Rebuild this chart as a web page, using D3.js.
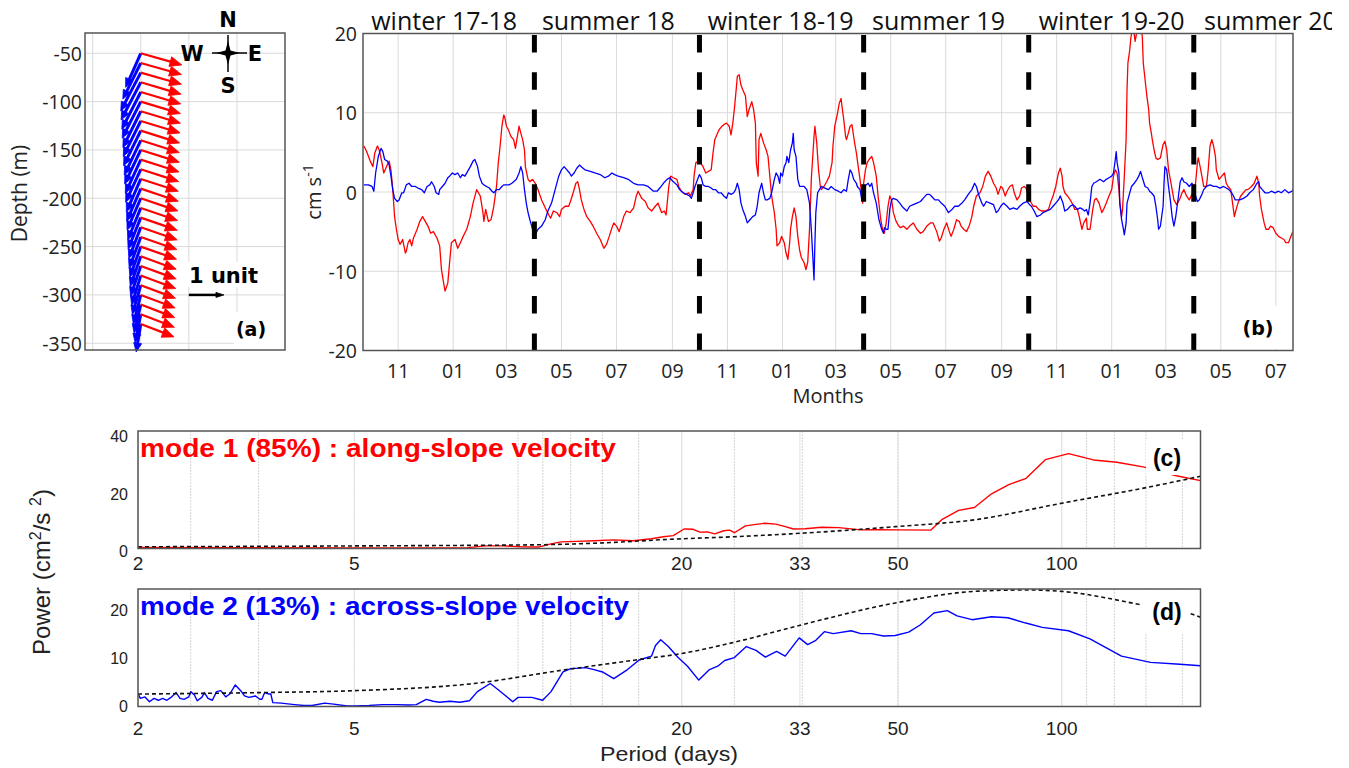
<!DOCTYPE html>
<html><head><meta charset="utf-8">
<script src="https://cdn.jsdelivr.net/npm/d3@7"></script>
<style>body{margin:0;background:#fff}svg{display:block}</style>
</head><body>
<svg id="fig" width="1349" height="768"></svg>
<script>
// ================= DATA =================
// Panel (a): EOF vertical structure (vector units)
const depths = [-50,-60,-70,-80,-90,-100,-110,-120,-130,-140,-150,-160,-170,-180,-190,-200,-210,-220,-230,-240,-250,-260,-270,-280,-290,-300,-310,-320,-330];
const mode1U = [1.17,1.16,1.16,1.15,1.14,1.13,1.13,1.12,1.11,1.10,1.10,1.09,1.08,1.07,1.07,1.06,1.05,1.04,1.04,1.03,1.02,1.01,1.01,1.00,0.99,0.98,0.97,0.96,0.95];
const mode1V = [-0.33,-0.33,-0.33,-0.34,-0.34,-0.34,-0.34,-0.34,-0.35,-0.35,-0.35,-0.35,-0.35,-0.35,-0.36,-0.36,-0.36,-0.36,-0.36,-0.36,-0.36,-0.37,-0.37,-0.37,-0.37,-0.37,-0.37,-0.37,-0.37];
const mode2U = [-0.43,-0.51,-0.57,-0.56,-0.54,-0.53,-0.51,-0.50,-0.49,-0.47,-0.46,-0.44,-0.43,-0.41,-0.40,-0.39,-0.37,-0.36,-0.34,-0.33,-0.31,-0.30,-0.29,-0.26,-0.24,-0.21,-0.19,-0.16,-0.13];
const mode2V = [-0.97,-1.03,-1.09,-1.07,-1.06,-1.04,-1.03,-1.01,-1.00,-0.99,-0.97,-0.96,-0.94,-0.94,-0.93,-0.91,-0.91,-0.90,-0.89,-0.89,-0.87,-0.86,-0.86,-0.84,-0.83,-0.83,-0.81,-0.81,-0.80];
const depthTicks = [-350,-300,-250,-200,-150,-100,-50];
const aGridX = [-1,0,1,2];
const refArrowUnits = 1;

// Panel (b): principal component time series, [days since 2017-09-23, cm/s]
const alongSlope = [[1,5.8],[4,5.1],[8,3.9],[11,3.2],[13,4.9],[16,5.8],[18,5.3],[21,3.7],[23,2.4],[26,3.2],[29,3.9],[31,2.8],[33,0.3],[35,-3.1],[37,-4.7],[39,-6.0],[41,-6.6],[44,-6.0],[47,-7.7],[48,-7.5],[50,-6.4],[52,-6.0],[54,-6.8],[56,-5.8],[60,-4.7],[63,-3.7],[66,-3.1],[69,-3.7],[72,-4.3],[75,-5.2],[78,-5.0],[82,-5.8],[85,-6.8],[87,-9.8],[90,-11.9],[91,-12.5],[94,-11.5],[96,-8.9],[98,-6.4],[102,-6.0],[105,-7.1],[108,-6.4],[111,-5.6],[115,-4.7],[119,-3.1],[122,-1.4],[126,0.3],[130,-0.5],[133,-2.6],[134,-3.7],[136,-2.2],[139,-3.7],[142,-3.5],[145,-1.8],[148,0.7],[150,3.7],[152,5.8],[154,8.3],[156,9.7],[157,9.5],[159,8.3],[161,7.9],[164,7.0],[167,6.6],[169,5.5],[170,6.2],[173,8.3],[175,7.4],[177,6.6],[179,5.3],[180,3.2],[183,1.6],[185,1.3],[188,1.6],[191,1.1],[194,0.3],[198,-1.0],[202,-2.0],[206,-2.9],[208,-3.3],[211,-2.4],[215,-2.6],[218,-3.1],[220,-2.2],[224,-1.8],[228,-1.8],[230,-1.2],[233,-0.1],[236,1.1],[238,1.3],[240,0.3],[242,-1.0],[245,-2.2],[248,-3.1],[252,-3.7],[255,-4.3],[259,-5.2],[263,-6.0],[267,-7.1],[270,-6.6],[273,-5.6],[276,-4.5],[278,-3.9],[281,-4.3],[284,-5.0],[287,-3.9],[289,-3.1],[292,-2.4],[296,-2.6],[300,-2.0],[303,-0.5],[305,0.1],[309,-0.8],[313,-1.2],[316,-2.0],[320,-2.4],[324,-1.8],[327,-1.4],[331,-2.6],[334,-2.4],[336,-2.9],[339,0.7],[341,2.0],[344,1.8],[348,1.6],[350,0.7],[353,0.1],[357,-0.3],[361,-0.1],[363,-0.5],[366,0.3],[367,2.0],[369,3.7],[372,3.9],[374,3.7],[377,3.2],[380,2.4],[383,2.6],[386,2.8],[388,4.9],[390,6.6],[393,7.4],[395,7.9],[398,8.3],[400,8.5],[403,8.7],[406,8.3],[408,7.2],[410,8.7],[412,10.8],[414,13.3],[415,14.6],[417,14.8],[419,13.5],[421,12.9],[424,12.1],[426,9.5],[428,10.4],[431,11.4],[433,10.4],[435,8.7],[436,3.7],[438,2.0],[439,6.6],[441,7.4],[444,6.2],[447,5.3],[449,4.5],[451,2.0],[453,-0.5],[456,-2.6],[458,-4.7],[459,-6.8],[462,-6.4],[464,-5.6],[467,-6.4],[469,-7.7],[471,-8.5],[473,-6.4],[474,-4.7],[476,-3.1],[478,-2.0],[480,-3.1],[482,-5.6],[484,-7.3],[486,-8.3],[489,-8.9],[491,-9.8],[493,-8.9],[495,-4.7],[497,1.6],[500,7.0],[501,8.3],[503,6.2],[505,2.8],[507,0.7],[508,0.3],[511,0.7],[514,1.3],[517,2.0],[520,3.7],[521,5.8],[523,8.3],[526,9.9],[528,11.2],[530,11.8],[531,10.8],[533,9.1],[535,7.0],[536,6.6],[538,7.4],[540,8.3],[542,8.5],[544,7.0],[545,6.2],[547,4.9],[549,3.2],[551,1.6],[553,-0.5],[554,-1.4],[555,1.1],[557,2.8],[559,3.7],[561,4.1],[564,4.5],[566,3.7],[569,2.0],[571,-0.5],[574,-3.5],[576,-4.7],[578,-5.2],[580,-3.9],[582,-1.8],[584,-0.5],[586,-1.0],[588,-2.6],[591,-3.7],[594,-4.3],[596,-4.5],[599,-4.3],[603,-4.7],[606,-4.3],[610,-3.9],[614,-4.7],[618,-5.2],[621,-5.0],[625,-4.3],[629,-3.9],[632,-3.9],[636,-5.0],[639,-6.2],[641,-5.8],[644,-4.7],[647,-3.9],[650,-5.0],[652,-5.6],[655,-4.7],[658,-3.5],[661,-3.7],[663,-4.3],[666,-4.7],[669,-5.0],[672,-4.3],[675,-3.1],[677,-1.8],[680,-0.5],[684,-0.1],[687,0.7],[690,2.0],[693,2.6],[696,2.0],[699,1.1],[702,0.5],[704,-0.3],[707,0.7],[709,0.5],[712,-0.5],[714,0.1],[717,0.7],[720,0.9],[722,-0.1],[725,-1.0],[728,-0.5],[730,0.5],[733,0.7],[735,0.5],[738,-0.5],[740,-1.2],[743,-1.8],[746,-1.8],[749,-2.2],[752,-2.4],[756,-2.4],[760,-2.2],[762,-1.4],[765,-0.5],[768,0.7],[771,2.4],[773,3.0],[775,2.0],[776,0.7],[778,-0.1],[781,-0.5],[784,-1.0],[787,-1.6],[789,-2.2],[792,-2.2],[794,-3.1],[797,-4.7],[799,-3.9],[802,-3.3],[803,-4.7],[806,-4.7],[809,-2.2],[811,-1.0],[813,-0.8],[816,-1.4],[819,-2.6],[821,-2.2],[824,-1.4],[827,-0.5],[830,0.3],[832,2.0],[834,2.8],[836,2.4],[838,0.3],[839,-1.4],[841,-3.1],[842,-2.2],[844,2.0],[846,6.6],[847,12.9],[848,16.3],[850,17.9],[851,19.2],[852,20.0],[853,21.5],[856,19.0],[859,21.0],[862,21.5],[864,19.5],[865,16.3],[867,14.2],[869,12.1],[871,10.4],[872,8.7],[874,7.4],[875,6.6],[877,5.3],[879,4.3],[881,4.1],[884,4.3],[885,4.9],[887,6.0],[889,6.4],[891,5.3],[893,2.8],[895,1.6],[897,0.3],[899,-1.0],[902,-1.6],[905,-1.0],[908,-0.1],[910,0.3],[913,-0.5],[916,-1.0],[919,-0.3],[921,0.3],[923,1.1],[925,3.7],[926,4.3],[928,3.2],[930,2.0],[932,0.7],[935,0.7],[937,2.8],[939,5.8],[941,6.6],[943,5.8],[945,4.5],[946,2.8],[949,1.6],[952,2.0],[955,2.4],[957,1.1],[959,0.7],[962,0.3],[964,-1.4],[966,-3.1],[968,-2.2],[970,-1.4],[973,-0.5],[976,-0.1],[979,0.3],[981,0.3],[985,0.7],[988,1.1],[991,2.0],[993,1.1],[994,-0.5],[996,-2.2],[999,-3.9],[1001,-4.7],[1004,-4.7],[1006,-4.3],[1009,-4.5],[1012,-5.2],[1015,-5.6],[1018,-5.8],[1021,-6.0],[1023,-6.4],[1026,-6.4],[1028,-5.8],[1030,-5.2],[1031,-5.0]];
const acrossSlope = [[1,0.9],[6,0.9],[10,0.7],[12,0.1],[14,2.4],[17,4.5],[20,5.5],[22,5.1],[24,4.1],[27,3.9],[29,3.4],[31,2.0],[33,0.3],[35,-0.8],[38,-1.2],[40,-1.0],[43,-0.1],[45,-0.1],[48,0.9],[51,1.1],[54,0.7],[58,0.7],[61,0.5],[65,0.3],[68,-0.1],[71,0.7],[74,0.9],[76,1.3],[79,0.7],[81,-0.1],[84,-0.3],[85,0.3],[88,0.7],[91,1.1],[94,1.8],[96,2.0],[99,2.4],[102,2.2],[105,2.4],[108,1.8],[110,2.2],[113,2.0],[116,2.6],[119,3.2],[122,3.9],[124,4.1],[127,3.2],[129,2.0],[132,1.1],[134,0.9],[137,0.7],[140,0.5],[143,0.1],[145,-0.1],[148,0.3],[151,0.3],[154,0.7],[156,0.9],[159,0.9],[162,0.9],[165,1.1],[167,1.3],[170,1.6],[173,2.4],[175,3.2],[177,2.4],[179,0.3],[181,-1.4],[183,-2.6],[185,-3.5],[187,-4.3],[189,-5.2],[191,-5.4],[194,-4.7],[198,-4.3],[202,-3.5],[205,-2.4],[209,-1.4],[213,0.3],[217,2.0],[220,2.8],[223,3.2],[226,2.8],[229,2.4],[231,2.0],[234,2.4],[237,3.0],[240,3.4],[242,3.2],[246,2.8],[252,2.6],[257,2.4],[263,2.2],[268,1.8],[272,2.0],[276,2.4],[279,2.2],[283,2.0],[289,1.8],[294,1.6],[300,1.1],[305,0.9],[311,0.9],[316,0.7],[322,0.1],[326,0.1],[329,0.5],[333,1.1],[337,1.6],[340,1.8],[344,1.3],[348,0.9],[351,0.3],[355,-0.1],[359,-0.3],[362,-0.5],[364,-0.8],[366,-0.1],[368,0.7],[371,1.6],[373,2.2],[375,1.8],[377,0.9],[380,0.7],[383,0.7],[386,0.5],[388,0.3],[391,0.3],[394,-0.1],[397,-0.1],[400,-0.5],[403,-0.8],[405,-0.1],[408,-0.3],[411,-0.1],[413,0.3],[415,1.1],[417,0.3],[419,-1.4],[421,-2.2],[424,-3.1],[426,-3.9],[429,-3.5],[432,-3.1],[435,-2.9],[437,-1.8],[439,-0.1],[442,1.1],[444,-0.1],[446,-1.0],[448,-1.0],[451,-0.8],[453,-0.1],[456,1.6],[458,2.4],[460,2.0],[462,1.1],[463,2.4],[465,2.0],[467,3.2],[469,3.7],[470,4.5],[472,3.7],[474,5.3],[476,6.2],[477,7.4],[478,5.3],[480,4.5],[482,1.6],[484,0.7],[486,0.7],[489,0.7],[492,0.3],[495,-1.4],[497,-4.7],[499,-8.9],[500,-11.1],[501,-6.4],[502,-2.6],[504,-0.1],[506,0.3],[508,0.7],[512,0.5],[516,0.3],[519,0.7],[523,0.3],[527,0.1],[530,-0.1],[533,0.3],[536,0.1],[538,1.6],[540,2.8],[542,2.4],[544,1.6],[547,1.1],[548,0.7],[551,0.3],[553,-1.0],[554,-0.5],[556,0.7],[558,0.9],[560,1.1],[562,0.7],[564,1.1],[566,-0.1],[569,-1.4],[572,-3.5],[575,-4.7],[577,-5.2],[578,-4.5],[580,-4.7],[582,-4.7],[584,-2.2],[586,-1.0],[588,-0.8],[592,-1.0],[595,-1.4],[599,-2.0],[603,-2.4],[606,-1.8],[610,-1.6],[614,-1.4],[618,-1.2],[621,-0.8],[625,-0.3],[628,-0.3],[630,-0.5],[634,-1.0],[638,-1.0],[641,-1.4],[645,-1.8],[649,-2.6],[653,-2.2],[656,-1.8],[660,-1.8],[664,-1.4],[667,-1.0],[671,-0.3],[675,0.3],[678,1.1],[680,0.7],[683,-0.5],[686,-1.4],[688,-1.8],[691,-1.2],[695,-1.4],[699,-1.6],[702,-2.6],[704,-2.4],[707,-1.8],[710,-1.4],[714,-1.8],[717,-2.2],[721,-2.0],[725,-2.2],[728,-1.8],[732,-1.4],[736,-1.2],[739,-1.6],[741,-1.8],[744,-2.4],[747,-3.1],[751,-2.9],[754,-2.6],[758,-2.4],[762,-2.2],[765,-1.8],[768,-1.4],[771,-1.0],[773,-0.5],[776,-1.4],[778,-2.4],[781,-2.2],[784,-1.8],[787,-1.6],[789,-1.8],[792,-2.2],[795,-2.0],[798,-2.2],[800,-2.4],[802,-2.2],[804,-2.9],[806,-1.4],[808,0.7],[810,1.1],[813,1.3],[817,1.6],[821,1.3],[824,1.6],[827,1.8],[830,2.0],[832,2.4],[834,4.1],[835,5.1],[836,3.7],[838,2.4],[839,-1.4],[841,-3.5],[843,-4.7],[844,-5.4],[846,-3.9],[847,-1.4],[850,-0.1],[852,0.7],[855,1.1],[858,1.6],[860,2.0],[862,2.6],[864,1.8],[867,0.7],[870,0.5],[872,0.1],[874,-0.1],[877,-0.5],[879,-1.8],[881,-3.5],[882,-4.7],[884,-4.3],[887,-1.8],[888,1.1],[889,3.2],[891,2.8],[893,0.7],[895,-1.0],[897,-3.1],[899,-4.3],[901,-3.1],[904,-0.5],[906,1.3],[908,1.8],[910,1.3],[913,1.1],[916,0.7],[919,1.1],[921,0.7],[923,-0.5],[925,-1.2],[927,-1.0],[930,-0.3],[932,0.3],[935,0.7],[939,0.9],[943,0.7],[946,0.7],[950,0.5],[954,0.7],[957,0.5],[960,0.3],[963,-0.1],[965,-0.5],[967,-1.0],[969,-1.0],[972,-1.0],[976,-0.8],[980,-0.5],[983,-0.1],[987,0.3],[991,1.1],[993,1.3],[994,0.7],[997,0.3],[1000,-0.1],[1004,-0.1],[1007,0.1],[1011,-0.1],[1015,0.1],[1018,-0.1],[1022,0.3],[1026,-0.1],[1030,0.1],[1031,0.3]];
const monthTicks = ["2017-11","2018-01","2018-03","2018-05","2018-07","2018-09","2018-11","2019-01","2019-03","2019-05","2019-07","2019-09","2019-11","2020-01","2020-03","2020-05","2020-07"];
const velTicks = [-20,-10,0,10,20];
const seasonBreaks = ["2018-04-01","2018-10-01","2019-04-01","2019-10-01","2020-04-01"];
const seasonNames = ["winter 17-18","summer 18","winter 18-19","summer 19","winter 19-20","summer 20"];
const seasonCenters = ["2017-12-22","2018-06-22","2018-12-30","2019-06-23","2020-01-01","2020-06-25"];

// Panels (c),(d): spectra [period (days), power]
const mode1Spectrum = [[2.0,0.4],[3.35,0.3],[5.0,0.2],[7.0,0.2],[8.1,0.3],[8.7,0.9],[9.4,0.9],[10.1,0.6],[10.9,0.5],[11.5,1.6],[12.0,2.3],[12.8,2.5],[13.8,2.7],[15.0,3.0],[16.3,2.7],[17.6,3.4],[18.5,4.1],[19.3,4.5],[20.2,6.8],[21.0,6.7],[21.6,5.7],[22.3,5.8],[23.0,5.1],[23.9,6.2],[24.5,6.4],[25.0,5.5],[26.2,7.9],[27.4,8.4],[28.4,8.8],[29.8,8.5],[30.9,7.7],[32.1,6.8],[33.7,6.9],[36.2,7.4],[38.9,7.3],[42.7,6.5],[45.9,6.6],[50.2,6.5],[57.4,6.4],[60.3,10.2],[64.6,13.3],[69.1,14.3],[74.3,19.1],[79.9,22.3],[86.0,24.5],[93.3,31.0],[102.9,33.1],[114.4,30.9],[126.3,30.1],[141.9,28.4],[162.5,25.4],[180,23.7]];
const mode1RedNoise = [[2,0.6],[5,0.9],[10.9,1.3],[14.5,2.0],[19,3.2],[24.9,4.1],[33,5.3],[42.7,6.7],[50,7.7],[69,10.0],[100,15.8],[143.5,21.3],[180,25.2]];
const mode2Spectrum = [[2.0,2.7],[2.02,1.7],[2.06,2.0],[2.10,1.0],[2.14,1.7],[2.18,1.3],[2.22,1.7],[2.26,1.3],[2.30,1.9],[2.35,2.9],[2.39,1.7],[2.43,1.5],[2.48,2.0],[2.50,3.1],[2.54,2.4],[2.57,1.2],[2.62,1.9],[2.65,2.9],[2.69,1.7],[2.74,1.3],[2.79,3.1],[2.84,3.3],[2.90,2.0],[2.95,2.6],[3.02,4.5],[3.09,3.3],[3.14,2.2],[3.20,1.9],[3.29,2.2],[3.35,1.5],[3.38,1.5],[3.42,2.9],[3.48,2.6],[3.51,2.6],[3.54,0.8],[3.67,0.7],[3.88,0.4],[4.04,0.2],[4.18,0.2],[4.41,0.7],[4.58,0.5],[4.85,0.1],[5.03,0.1],[5.32,0.2],[5.63,0.4],[5.96,0.4],[6.31,0.3],[6.50,0.4],[6.78,1.5],[6.98,1.1],[7.17,0.9],[7.50,1.1],[7.81,0.9],[8.14,1.2],[8.42,3.1],[8.89,4.8],[9.22,3.4],[9.78,1.0],[10.0,1.9],[10.6,1.9],[11.1,1.3],[11.5,3.1],[12.1,7.2],[12.5,7.9],[13.0,8.0],[13.3,8.1],[13.8,7.7],[14.3,7.2],[15.0,5.8],[15.9,7.7],[16.7,9.7],[17.6,10.5],[17.9,12.7],[18.3,13.9],[18.9,12.5],[19.7,10.2],[20.5,8.4],[21.5,5.5],[22.5,7.7],[23.3,8.4],[24.0,9.6],[25.0,10.2],[26.3,12.5],[27.4,11.7],[28.5,10.3],[29.9,11.5],[31.0,10.5],[32.9,14.3],[34.1,12.9],[35.3,13.8],[36.6,15.6],[38.0,15.2],[41.0,15.8],[42.7,15.2],[44.7,15.2],[47.0,14.7],[49.4,14.8],[52.3,15.5],[54.9,17.0],[58.2,19.5],[61.6,20.0],[64.2,18.9],[68.4,18.1],[74.3,18.7],[79.6,18.5],[85.9,17.4],[92.1,16.5],[102.9,15.8],[112.7,14.1],[128.8,10.5],[145.7,9.2],[165.0,8.8],[180,8.5]];
const mode2RedNoise = [[2,2.6],[3.35,2.9],[5,3.3],[8.3,4.8],[12.1,7.6],[16.7,9.8],[19.9,11.0],[25,13.4],[32.9,16.9],[50,21.7],[69,24.0],[86,24.3],[100,24.0],[143.5,21.0],[172,19.4],[180,18.6]];
const periodTicks = [2,5,20,33,50,100];
const periodGrid = [2.5,3.333,5,10,11.11,12.5,14.29,16.67,20,25,33.33,50,100,111.1,125,142.9,166.7];
const cPowerTicks = [0,20,40];
const dPowerTicks = [0,10,20];

// ================= DRAWING =================
const svg = d3.select('#fig');
const OPEN = "'Open Sans','Liberation Sans',Arial,sans-serif";
const HELV = "'Liberation Sans',Arial,Helvetica,sans-serif";
const DJB = "'DejaVu Sans',Verdana,sans-serif";
const GRID = '#dadada', BOX = '#555';
const RED = '#ff0000', BLUE = '#0000ff';
const defs = svg.append('defs');

function box(g, b){
  g.append('rect').attr('x',b.x0).attr('y',b.y0).attr('width',b.x1-b.x0).attr('height',b.y1-b.y0)
    .attr('fill','none').attr('stroke',BOX).attr('stroke-width',1.5);
}
function clip(id,b){
  defs.append('clipPath').attr('id',id).append('rect')
    .attr('x',b.x0).attr('y',b.y0).attr('width',b.x1-b.x0).attr('height',b.y1-b.y0);
}
function labelBox(g, x0,y0,x1,y1){
  g.append('rect').attr('x',x0).attr('y',y0).attr('width',x1-x0).attr('height',y1-y0).attr('fill','#fff');
}

// ---------- Panel (a) ----------
const aB = {x0:85,x1:285,y0:33,y1:350};
const aX = d3.scaleLinear().domain([-1.16,3]).range([aB.x0,aB.x1]);
const aY = d3.scaleLinear().domain([-357,-29]).range([aB.y1,aB.y0]);
const gA = svg.append('g');
gA.selectAll('.gx').data(aGridX).join('line').attr('x1',d=>aX(d)).attr('x2',d=>aX(d))
  .attr('y1',aB.y0).attr('y2',aB.y1).attr('stroke',GRID).attr('stroke-width',1);
gA.selectAll('.gy').data(depthTicks).join('line').attr('y1',d=>aY(d)).attr('y2',d=>aY(d))
  .attr('x1',aB.x0).attr('x2',aB.x1).attr('stroke',GRID).attr('stroke-width',1);
gA.selectAll('.ty').data(depthTicks).join('text').attr('x',aB.x0-3).attr('y',d=>aY(d))
  .attr('text-anchor','end').attr('dominant-baseline','central')
  .attr('font-family',OPEN).attr('font-size',19.5).attr('fill','#222').text(d=>String(d));
gA.append('text').attr('transform',`translate(27,${(aB.y0+aB.y1)/2+2}) rotate(-90)`)
  .attr('text-anchor','middle').attr('font-family',OPEN).attr('font-size',21).attr('fill','#222').text('Depth (m)');

const vpx = aX(1)-aX(0); // pixels per axis unit
const kq = 0.73*vpx;      // pixels per vector unit
function arrow(g,x0,y0,x1,y1,color,lw,hl,hw){
  const dx=x1-x0, dy=y1-y0, L=Math.hypot(dx,dy), ux=dx/L, uy=dy/L;
  const bx=x1-ux*hl, by=y1-uy*hl;
  g.append('line').attr('x1',x0).attr('y1',y0).attr('x2',bx+ux*1).attr('y2',by+uy*1)
    .attr('stroke',color).attr('stroke-width',lw);
  g.append('polygon').attr('points',[[x1,y1],[bx-uy*hw,by+ux*hw],[bx+uy*hw,by-ux*hw]].map(p=>p.join(',')).join(' '))
    .attr('fill',color).attr('stroke',color).attr('stroke-width',0.8);
}
const gQ = gA.append('g');
depths.forEach((d,i)=>{
  arrow(gQ, aX(0), aY(d), aX(0)+mode2U[i]*kq, aY(d)-mode2V[i]*kq, BLUE, 3, 9, 4);
});
depths.forEach((d,i)=>{
  arrow(gQ, aX(0), aY(d), aX(0)+mode1U[i]*kq, aY(d)-mode1V[i]*kq, RED, 2.2, 12, 5);
});
// reference arrow
labelBox(gA, 188, 262, 268, 287);
gA.append('text').attr('x',189).attr('y',283).attr('font-family',DJB).attr('font-weight','bold')
  .attr('font-size',21).attr('fill','#000').text('1 unit');
arrow(gA, aX(1), aY(-300), aX(1)+refArrowUnits*kq, aY(-300), '#000', 2.5, 8, 2.5);
// (a) label
labelBox(gA, 234, 312, 284, 349);
gA.append('text').attr('x',251).attr('y',329).attr('text-anchor','middle').attr('dominant-baseline','central')
  .attr('font-family',DJB).attr('font-weight','bold').attr('font-size',19).text('(a)');
// compass
const cc = {x:228, y:53};
const gC = gA.append('g');
gC.append('line').attr('x1',cc.x-16).attr('x2',cc.x+19).attr('y1',cc.y).attr('y2',cc.y).attr('stroke','#000').attr('stroke-width',1.5);
gC.append('line').attr('x1',cc.x).attr('x2',cc.x).attr('y1',cc.y-18).attr('y2',cc.y+19).attr('stroke','#000').attr('stroke-width',1.5);
gC.append('polygon').attr('points',[[cc.x,cc.y-12],[cc.x+2.5,cc.y-2.5],[cc.x+12,cc.y],[cc.x+2.5,cc.y+2.5],[cc.x,cc.y+12],[cc.x-2.5,cc.y+2.5],[cc.x-12,cc.y],[cc.x-2.5,cc.y-2.5]].map(p=>p.join(',')).join(' ')).attr('fill','#000');
[['N',cc.x,cc.y-33],['S',cc.x,cc.y+33],['W',cc.x-36,cc.y+1],['E',cc.x+27,cc.y+1]].forEach(([t,x,y])=>{
  gC.append('text').attr('x',x).attr('y',y).attr('text-anchor','middle').attr('dominant-baseline','central')
    .attr('font-family',DJB).attr('font-weight','bold').attr('font-size',21).text(t);
});
box(gA,aB);

// ---------- Panel (b) ----------
const bB = {x0:363,x1:1293,y0:33.5,y1:350.5};
const t0 = Date.UTC(2017,8,23);
const dayDate = d => new Date(t0 + d*864e5);
const pMonth = d3.utcParse('%Y-%m'), pDay = d3.utcParse('%Y-%m-%d');
const bX = d3.scaleUtc().domain([dayDate(0), dayDate(1031)]).range([bB.x0,bB.x1]);
const bY = d3.scaleLinear().domain([-20,20]).range([bB.y1,bB.y0]);
const gB = svg.append('g');
clip('clipB', bB);
gB.selectAll('.gx').data(monthTicks).join('line').attr('x1',d=>bX(pMonth(d))).attr('x2',d=>bX(pMonth(d)))
  .attr('y1',bB.y0).attr('y2',bB.y1).attr('stroke',GRID);
gB.selectAll('.gy').data(velTicks).join('line').attr('y1',d=>bY(d)).attr('y2',d=>bY(d))
  .attr('x1',bB.x0).attr('x2',bB.x1).attr('stroke',GRID);
gB.selectAll('.tx').data(monthTicks).join('text').attr('x',d=>bX(pMonth(d))).attr('y',378)
  .attr('text-anchor','middle').attr('font-family',OPEN).attr('font-size',19.5).attr('fill','#222')
  .text(d=>d3.utcFormat('%m')(pMonth(d)));
gB.selectAll('.ty').data(velTicks).join('text').attr('x',bB.x0-6).attr('y',d=>bY(d))
  .attr('text-anchor','end').attr('dominant-baseline','central').attr('font-family',OPEN)
  .attr('font-size',19.5).attr('fill','#222').text(d=>String(d));
gB.append('text').attr('x',(bB.x0+bB.x1)/2).attr('y',403).attr('text-anchor','middle')
  .attr('font-family',OPEN).attr('font-size',20).attr('fill','#222').text('Months');
const yl = gB.append('text').attr('transform',`translate(321,${(bB.y0+bB.y1)/2}) rotate(-90)`)
  .attr('text-anchor','middle').attr('font-family',OPEN).attr('font-size',20).attr('fill','#222');
yl.append('tspan').text('cm s');
yl.append('tspan').attr('dy',-8).attr('font-size',14).text('-1');

const lineB = d3.line().x(d=>bX(dayDate(d[0]))).y(d=>bY(d[1]));
const gBL = gB.append('g').attr('clip-path','url(#clipB)');
gBL.append('path').attr('d',lineB(alongSlope)).attr('fill','none').attr('stroke',RED).attr('stroke-width',1.3).attr('stroke-linejoin','round');
gBL.append('path').attr('d',lineB(acrossSlope)).attr('fill','none').attr('stroke',BLUE).attr('stroke-width',1.3).attr('stroke-linejoin','round');
gBL.selectAll('.sb').data(seasonBreaks).join('line').attr('x1',d=>bX(pDay(d))).attr('x2',d=>bX(pDay(d)))
  .attr('y1',35).attr('y2',bB.y1).attr('stroke','#000').attr('stroke-width',5).attr('stroke-dasharray','17.5,19.8');
labelBox(gB, 1240, 306, 1291, 349);
gB.append('text').attr('x',1258).attr('y',328).attr('text-anchor','middle').attr('dominant-baseline','central')
  .attr('font-family',DJB).attr('font-weight','bold').attr('font-size',19).text('(b)');
box(gB,bB);
defs.append('clipPath').attr('id','clipSeason').append('rect').attr('x',0).attr('y',0).attr('width',1332).attr('height',40);
gB.append('g').attr('clip-path','url(#clipSeason)').selectAll('text').data(seasonNames).join('text')
  .attr('x',(d,i)=>bX(pDay(seasonCenters[i]))).attr('y',30).attr('text-anchor','middle')
  .attr('font-family',OPEN).attr('font-size',25).attr('fill','#111').text(d=>d);

// ---------- Panels (c),(d) ----------
const sX = d3.scaleLog().domain([2,180]).range([138,1200.5]);
function spectrumPanel(b, yDom, yTicks, yOff, spec, noise, color, title, titleLen, tag, tagBox, xLabY){
  const y = d3.scaleLinear().domain(yDom).range([b.y1,b.y0]);
  const g = svg.append('g');
  const id = 'clip'+tag;
  clip(id,b);
  g.selectAll('.gm').data(periodGrid).join('line').attr('x1',d=>sX(d)).attr('x2',d=>sX(d))
    .attr('y1',b.y0).attr('y2',b.y1).attr('stroke','#d4d4d4').attr('stroke-width',1).attr('stroke-dasharray','2,1');
  g.selectAll('.gt').data(periodTicks).join('line').attr('x1',d=>sX(d)).attr('x2',d=>sX(d))
    .attr('y1',b.y0).attr('y2',b.y1).attr('stroke','#e2e2e2').attr('stroke-width',1);
  g.selectAll('.ty').data(yTicks).join('text').attr('x',b.x0-10).attr('y',d=>y(d)+yOff)
    .attr('text-anchor','end').attr('dominant-baseline','central').attr('font-family',HELV)
    .attr('font-size',16).attr('fill','#222').text(d=>String(d));
  g.selectAll('.tx').data(periodTicks).join('text').attr('x',d=>sX(d)).attr('y',xLabY)
    .attr('text-anchor','middle').attr('font-family',HELV).attr('font-size',19).attr('fill','#222').text(d=>String(d));
  const gl = g.append('g').attr('clip-path',`url(#${id})`);
  const ln = d3.line().x(d=>sX(d[0])).y(d=>y(d[1]));
  gl.append('path').attr('d',ln(spec)).attr('fill','none').attr('stroke',color).attr('stroke-width',1.4).attr('stroke-linejoin','round');
  gl.append('path').attr('d',ln.curve(d3.curveMonotoneX)(noise)).attr('fill','none').attr('stroke','#111')
    .attr('stroke-width',1.6).attr('stroke-dasharray','4,3');
  labelBox(g, tagBox[0],tagBox[1],tagBox[2],tagBox[3]);
  g.append('text').attr('x',(tagBox[0]+tagBox[2])/2+1).attr('y',(tagBox[1]+tagBox[3])/2).attr('text-anchor','middle')
    .attr('dominant-baseline','central').attr('font-family',HELV).attr('font-weight','bold').attr('font-size',23).text('('+tag+')');
  g.append('text').attr('x',b.x0+2).attr('y',b.y0+26).attr('font-family',HELV).attr('font-weight','bold')
    .attr('font-size',25).attr('fill',color).attr('textLength',titleLen).attr('lengthAdjust','spacingAndGlyphs').text(title);
  box(g,b);
}
spectrumPanel({x0:138,x1:1200.5,y0:431,y1:548.5},[0,41],cPowerTicks,3,mode1Spectrum,mode1RedNoise,RED,
  'mode 1 (85%) : along-slope velocity',476,'c',[1146,440,1186,475],570);
spectrumPanel({x0:138,x1:1200.5,y0:589,y1:706.5},[0,24.5],dPowerTicks,0,mode2Spectrum,mode2RedNoise,BLUE,
  'mode 2 (13%) : across-slope velocity',489,'d',[1142,590,1190,633],735);

svg.append('text').attr('x',669).attr('y',761).attr('text-anchor','middle').attr('font-family',HELV)
  .attr('font-size',21).attr('fill','#222').attr('textLength',138).attr('lengthAdjust','spacingAndGlyphs').text('Period (days)');
const pl = svg.append('text').attr('transform','translate(50,572) rotate(-90)').attr('text-anchor','middle')
  .attr('font-family',HELV).attr('font-size',24).attr('fill','#222');
pl.append('tspan').text('Power (cm');
pl.append('tspan').attr('dy',-9).attr('font-size',16).text('2');
pl.append('tspan').attr('dy',9).text('/s ');
pl.append('tspan').attr('dy',-9).attr('font-size',16).text('2');
pl.append('tspan').attr('dy',9).text(')');
</script>
</body></html>
